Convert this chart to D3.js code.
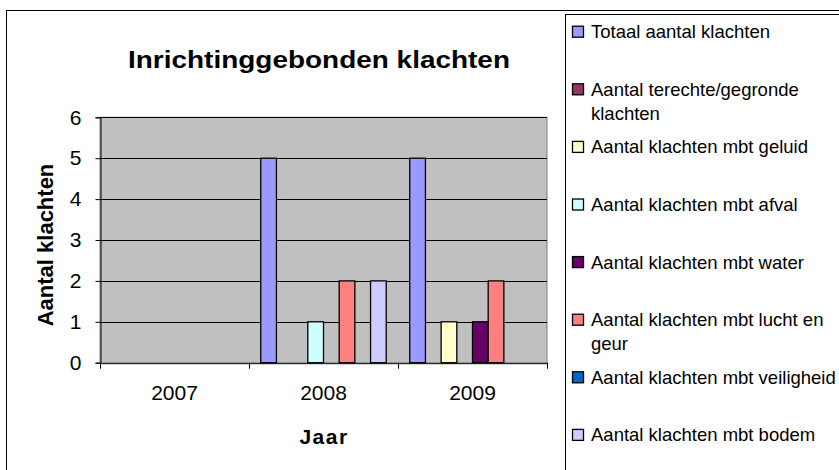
<!DOCTYPE html>
<html><head><meta charset="utf-8">
<script src="https://cdn.jsdelivr.net/npm/d3@7"></script>
<style>body{margin:0;background:#fff}svg{display:block;font-family:Arial,"Liberation Sans",sans-serif}</style>
</head><body><svg id="c" width="839" height="470"></svg>
<script>
const years = ["2007","2008","2009"];
const seriesNames = ["Totaal aantal klachten","Aantal terechte/gegronde klachten","Aantal klachten mbt geluid","Aantal klachten mbt afval","Aantal klachten mbt water","Aantal klachten mbt lucht en geur","Aantal klachten mbt veiligheid","Aantal klachten mbt bodem"];
const legendLines = [["Totaal aantal klachten"],["Aantal terechte/gegronde","klachten"],["Aantal klachten mbt geluid"],["Aantal klachten mbt afval"],["Aantal klachten mbt water"],["Aantal klachten mbt lucht en","geur"],["Aantal klachten mbt veiligheid"],["Aantal klachten mbt bodem"]];
const seriesColors = ["#9999FF","#993366","#FFFFCC","#CCFFFF","#660066","#FF8080","#0066CC","#CCCCFF"];
const totaal = [0,5,5];
const terecht = [0,0,0];
const geluid = [0,0,1];
const afval = [0,1,0];
const water = [0,0,1];
const lucht = [0,2,2];
const veiligheid = [0,0,0];
const bodem = [0,2,0];
const yTicks = [0,1,2,3,4,5,6];
const seriesValues = [totaal,terecht,geluid,afval,water,lucht,veiligheid,bodem];

const svg = d3.select("#c");
const L=100,R=547,T=117.3,B=362.7;

// outer chart border
svg.append("rect").attr("x",6.5).attr("y",10.5).attr("width",900).attr("height",600).attr("fill","#fff").attr("stroke","#000");

const x0 = d3.scaleBand().domain(years).range([L,R]).paddingInner(0).paddingOuter(0);
const x1 = d3.scaleBand().domain(d3.range(8)).range([0,x0.bandwidth()]).paddingInner(0).paddingOuter(0.75);
const y = d3.scaleLinear().domain([0,6]).range([B,T]);

svg.append("rect").attr("x",L).attr("y",T).attr("width",R-L).attr("height",B-T).attr("fill","#C0C0C0").attr("stroke","#808080");

svg.append("g").selectAll("line").data(yTicks.filter(d=>d>0)).join("line")
  .attr("x1",L).attr("x2",R).attr("y1",d=>Math.round(y(d))+0.5).attr("y2",d=>Math.round(y(d))+0.5).attr("stroke","#000");

const bars=[];
seriesValues.forEach((vals,si)=>vals.forEach((v,yi)=>{ if(v>0) bars.push({si,yi,v}); }));
svg.append("g").selectAll("rect").data(bars).join("rect")
  .attr("x",d=>x0(years[d.yi])+x1(d.si))
  .attr("width",x1.bandwidth())
  .attr("y",d=>y(d.v))
  .attr("height",d=>y(0)-y(d.v))
  .attr("fill",d=>seriesColors[d.si]).attr("stroke","#000").attr("stroke-width",1.3);

// y axis
const ya = svg.append("g").attr("transform",`translate(${L+0.5},0)`).call(d3.axisLeft(y).tickValues(yTicks).tickSize(5).tickPadding(14).tickFormat(d3.format("d")));
ya.select(".domain").attr("stroke","#000");
ya.selectAll("line").attr("stroke","#000");
ya.selectAll("text").attr("font-size",21).attr("fill","#000").attr("font-family","Arial, Liberation Sans");
// x axis
const xa = svg.append("g").attr("transform",`translate(0,${B+0.5})`).call(d3.axisBottom(x0).tickSize(0).tickPadding(22));
xa.select(".domain").attr("stroke","#000");
xa.selectAll("text").attr("font-size",21).attr("fill","#000").attr("font-family","Arial, Liberation Sans");
svg.append("g").selectAll("line").data(years.concat(["end"])).join("line")
  .attr("x1",(d,i)=>Math.round(i<3?x0(d):R)+0.5).attr("x2",(d,i)=>Math.round(i<3?x0(d):R)+0.5)
  .attr("y1",B).attr("y2",B+6).attr("stroke","#000");

// title
svg.append("text").attr("x",319).attr("y",68).attr("text-anchor","middle").attr("font-size",24).attr("font-weight","bold")
  .attr("textLength",382).attr("lengthAdjust","spacingAndGlyphs").text("Inrichtinggebonden klachten");
svg.append("text").attr("transform","translate(53,245) rotate(-90)").attr("text-anchor","middle").attr("font-size",22).attr("font-weight","bold").text("Aantal klachten");
svg.append("text").attr("x",324).attr("y",444).attr("text-anchor","middle").attr("font-size",21).attr("font-weight","bold").attr("letter-spacing",1.5).text("Jaar");

// legend
svg.append("rect").attr("x",565.5).attr("y",14.5).attr("width",400).attr("height",500).attr("fill","#fff").attr("stroke","#000");
const lg = svg.append("g").selectAll("g").data(seriesNames).join("g").attr("transform",(d,i)=>`translate(572,${31.7+i*57.6})`);
lg.append("rect").attr("x",0.5).attr("y",-5.5).attr("width",11).attr("height",11).attr("fill",(d,i)=>seriesColors[i]).attr("stroke","#000").attr("stroke-width",1.3);
lg.append("text").attr("font-size",18.5).attr("fill","#000").selectAll("tspan").data((d,i)=>legendLines[i]).join("tspan")
  .attr("x",19).attr("y",(d,j)=>6.5+j*24).text(d=>d);
</script></body></html>
